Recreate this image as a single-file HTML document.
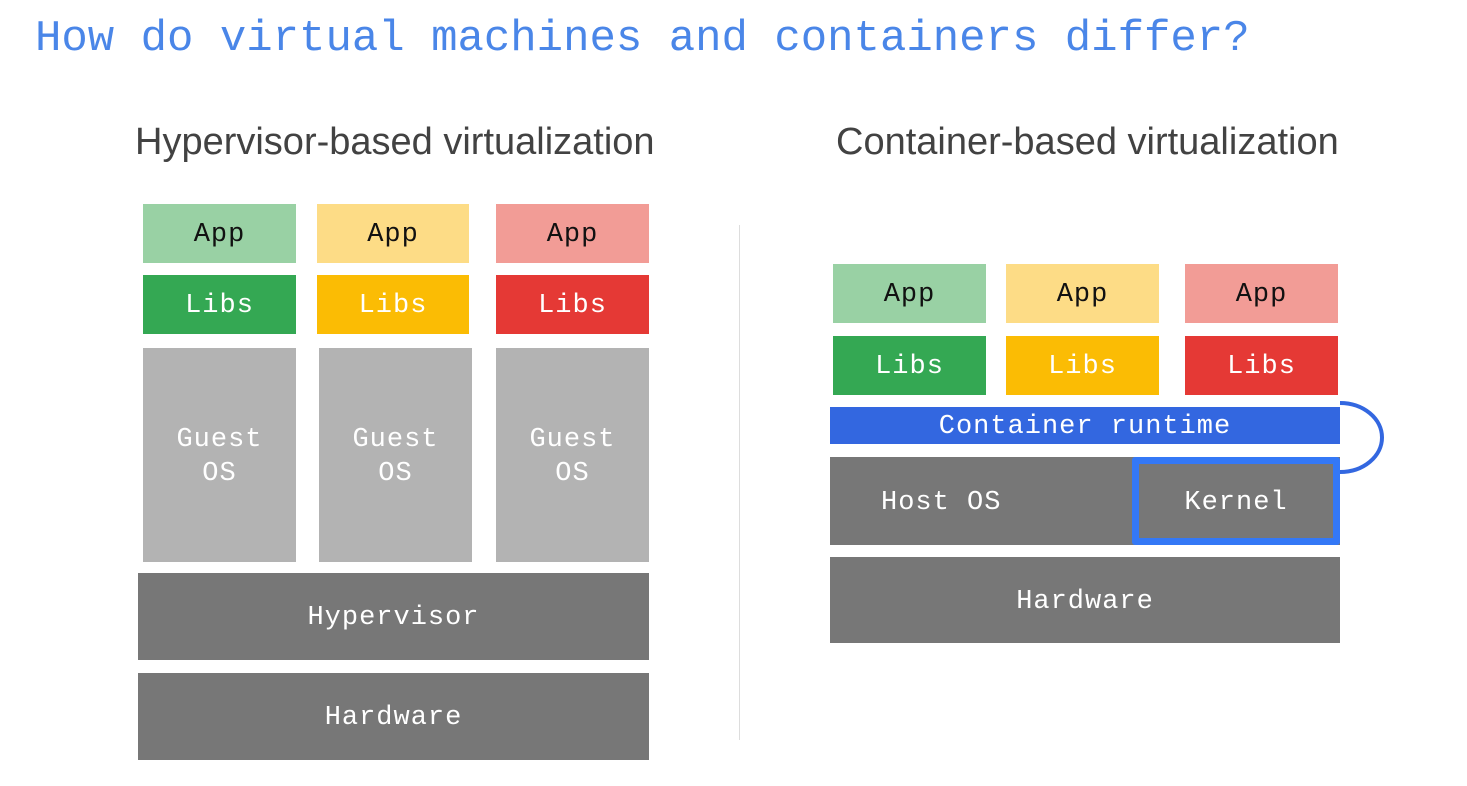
<!DOCTYPE html>
<html><head><meta charset="utf-8"><style>
body{margin:0;width:1467px;height:786px;background:#fff;position:relative;overflow:hidden;font-family:"Liberation Mono",monospace}
.t{position:absolute;left:35px;top:14px;font-size:44px;color:#4a86e8;white-space:nowrap}
.h{position:absolute;font-family:"Liberation Sans",sans-serif;font-size:38px;color:#424242;white-space:nowrap}
.b{position:absolute;display:flex;align-items:center;justify-content:center;text-align:center;font-size:27px;color:#fff;line-height:34px;letter-spacing:1px;padding-top:3px;box-sizing:border-box}
.ag{background:#99d1a4;color:#111}.ay{background:#fddc86;color:#111}.ar{background:#f29c96;color:#111}
.lg{background:#34a853}.ly{background:#fbbc04}.lr{background:#e53935}
.g{background:#b3b3b3}.d{background:#777}
</style></head><body>
<div class="t">How do virtual machines and containers differ?</div>
<div class="h" style="left:135px;top:121px">Hypervisor-based virtualization</div>
<div class="h" style="left:836px;top:121px">Container-based virtualization</div>

<div class="b ag" style="left:143px;top:204px;width:153px;height:59px">App</div>
<div class="b ay" style="left:317px;top:204px;width:152px;height:59px">App</div>
<div class="b ar" style="left:496px;top:204px;width:153px;height:59px">App</div>
<div class="b lg" style="left:143px;top:275px;width:153px;height:59px">Libs</div>
<div class="b ly" style="left:317px;top:275px;width:152px;height:59px">Libs</div>
<div class="b lr" style="left:496px;top:275px;width:153px;height:59px">Libs</div>
<div class="b g" style="left:143px;top:348px;width:153px;height:214px">Guest<br>OS</div>
<div class="b g" style="left:319px;top:348px;width:153px;height:214px">Guest<br>OS</div>
<div class="b g" style="left:496px;top:348px;width:153px;height:214px">Guest<br>OS</div>
<div class="b d" style="left:138px;top:573px;width:511px;height:87px">Hypervisor</div>
<div class="b d" style="left:138px;top:673px;width:511px;height:87px">Hardware</div>

<div style="position:absolute;left:739px;top:225px;width:1px;height:515px;background:#ddd"></div>

<div class="b ag" style="left:833px;top:264px;width:153px;height:59px">App</div>
<div class="b ay" style="left:1006px;top:264px;width:153px;height:59px">App</div>
<div class="b ar" style="left:1185px;top:264px;width:153px;height:59px">App</div>
<div class="b lg" style="left:833px;top:336px;width:153px;height:59px">Libs</div>
<div class="b ly" style="left:1006px;top:336px;width:153px;height:59px">Libs</div>
<div class="b lr" style="left:1185px;top:336px;width:153px;height:59px">Libs</div>
<div class="b" style="left:830px;top:407px;width:510px;height:37px;background:#3367e0">Container runtime</div>
<div class="b d" style="left:830px;top:457px;width:510px;height:88px;justify-content:flex-start;padding-left:51px">Host OS</div>
<div class="b d" style="left:1132px;top:457px;width:208px;height:88px;border:7px solid #3478f6;border-radius:3px">Kernel</div>
<div class="b d" style="left:830px;top:557px;width:510px;height:86px">Hardware</div>
<svg style="position:absolute;left:0;top:0" width="1467" height="786"><path d="M1340 403 A42 34.5 0 0 1 1340 472" fill="none" stroke="#3367e0" stroke-width="4"/></svg>
</body></html>
